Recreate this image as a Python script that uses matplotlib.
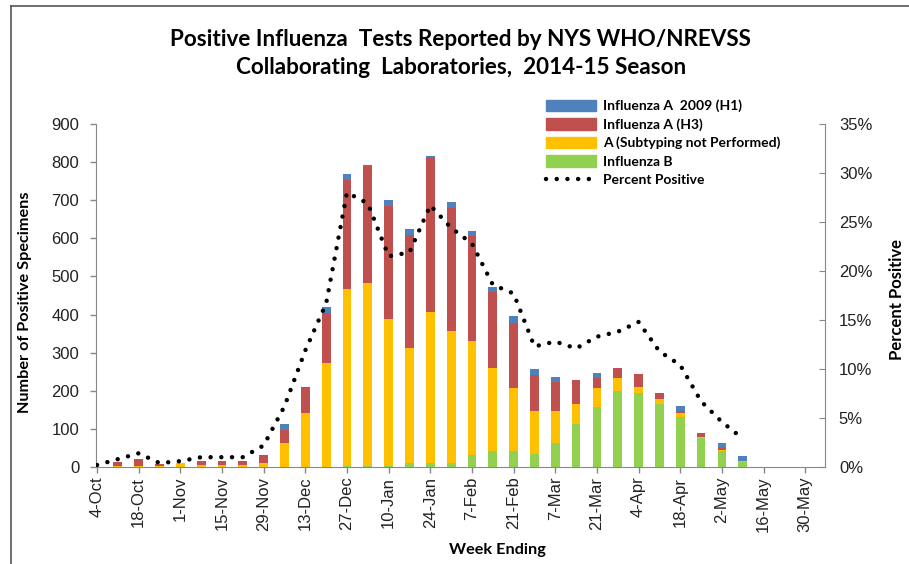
import numpy as np
import matplotlib
matplotlib.use('Agg')
import matplotlib.pyplot as plt
from matplotlib.lines import Line2D
from matplotlib.patches import Patch

# week ending dates, 4-Oct-2014 .. 30-May-2015
weeks = ['4-Oct', '11-Oct', '18-Oct', '25-Oct', '1-Nov', '8-Nov', '15-Nov', '22-Nov',
         '29-Nov', '6-Dec', '13-Dec', '20-Dec', '27-Dec', '3-Jan', '10-Jan', '17-Jan',
         '24-Jan', '31-Jan', '7-Feb', '14-Feb', '21-Feb', '28-Feb', '7-Mar', '14-Mar',
         '21-Mar', '28-Mar', '4-Apr', '11-Apr', '18-Apr', '25-Apr', '2-May', '9-May',
         '16-May', '23-May', '30-May']

flu_b = [0, 0, 0, 0, 0, 0, 0, 0, 1, 0, 0, 0, 2, 2, 3, 10, 10, 10, 31, 42, 42, 33,
         62, 112, 157, 199, 193, 164, 132, 75, 43, 14, 0, 0, 0]
a_not_subtyped = [0, 3, 3, 2, 10, 5, 5, 4, 9, 64, 141, 274, 466, 480, 385, 303, 398,
                  347, 300, 217, 166, 114, 85, 52, 49, 35, 18, 14, 9, 3, 2, 1, 0, 0, 0]
a_h3 = [0, 10, 17, 5, 1, 12, 12, 13, 21, 33, 68, 131, 285, 309, 297, 296, 405, 322,
        275, 201, 171, 94, 75, 63, 27, 25, 33, 15, 6, 10, 4, 1, 0, 0, 0]
a_h1 = [0, 0, 0, 0, 0, 0, 0, 0, 0, 16, 2, 14, 16, 2, 16, 15, 3, 16, 14, 13, 16, 15,
        15, 2, 13, 2, 1, 1, 14, 1, 15, 14, 0, 0, 0]

pct_positive = [0.2, 0.8, 1.4, 0.4, 0.6, 1.0, 1.0, 1.0, 2.2, 6.2, 11.9, 16.7, 28.0,
                26.9, 21.5, 21.9, 26.7, 24.4, 22.8, 18.6, 17.7, 12.3, 12.8, 12.1, 13.3,
                13.8, 14.8, 11.8, 10.4, 6.7, 4.6, 2.9]

series_names = ['Influenza A  2009 (H1)', 'Influenza A (H3)',
                'A (Subtyping not Performed)', 'Influenza B', 'Percent Positive']
COLORS = ['#4F81BD', '#C0504D', '#FFC000', '#92D050']

title_font = ['Lato', 'DejaVu Sans']
tick_font = ['Liberation Sans', 'DejaVu Sans']


def main():
    x = np.arange(len(weeks))
    b = np.array(flu_b)
    y = np.array(a_not_subtyped)
    r = np.array(a_h3)
    h1 = np.array(a_h1)

    fig = plt.figure(figsize=(9.09, 5.64), dpi=100)
    ax = fig.add_axes([96 / 909, 1 - 467 / 564, (825 - 96) / 909, (467 - 124) / 564])

    w = 0.42
    ax.bar(x, b, w, color=COLORS[3], zorder=2)
    ax.bar(x, y, w, bottom=b, color=COLORS[2], zorder=2)
    ax.bar(x, r, w, bottom=b + y, color=COLORS[1], zorder=2)
    ax.bar(x, h1, w, bottom=b + y + r, color=COLORS[0], zorder=2)

    ax.set_xlim(-0.05, 34.95)
    ax.set_ylim(0, 900)
    ax.set_yticks(np.arange(0, 901, 100))
    ax.set_xticks(x[::2])
    ax.set_xticklabels(weeks[::2], rotation=90, fontsize=12, family=tick_font, color='#222222')
    for lab in ax.get_yticklabels():
        lab.set_family(tick_font)
        lab.set_fontsize(12)
        lab.set_color('#222222')
    ax.tick_params(axis='both', direction='out', length=4, color='#888888', width=1)
    ax.tick_params(axis='y', pad=8)
    ax.tick_params(axis='x', pad=3)
    for side in ['top', 'right']:
        ax.spines[side].set_visible(False)
    for side in ['left', 'bottom']:
        ax.spines[side].set_color('#888888')

    ax2 = ax.twinx()
    xp = np.arange(len(pct_positive))
    ax2.plot(xp, pct_positive, color='black', lw=3.2, linestyle=(0, (0.01, 2.4)),
             dash_capstyle='round', zorder=3)
    ax2.set_ylim(0, 35)
    ax2.set_yticks(np.arange(0, 36, 5))
    ax2.set_yticklabels(['%d%%' % v for v in range(0, 36, 5)], family=tick_font,
                        fontsize=12, color='#222222')
    ax2.tick_params(axis='y', direction='in', length=4, color='#888888', pad=10)
    for side in ['top', 'left', 'bottom']:
        ax2.spines[side].set_visible(False)
    ax2.spines['right'].set_color('#888888')

    fig.text(0.507, 1 - 39 / 564, 'Positive Influenza  Tests Reported by NYS WHO/NREVSS',
             ha='center', va='center', fontsize=16.2, fontweight='bold', family=title_font)
    fig.text(0.507, 1 - 68 / 564, 'Collaborating  Laboratories,  2014-15 Season',
             ha='center', va='center', fontsize=16.2, fontweight='bold', family=title_font)

    fig.text(25 / 909, 1 - 302 / 564, 'Number of Positive Specimens', rotation=90,
             ha='center', va='center', fontsize=11.7, fontweight='bold', family=title_font)
    fig.text(897 / 909, 1 - 300 / 564, 'Percent Positive', rotation=90,
             ha='center', va='center', fontsize=12, fontweight='bold', family=title_font)
    fig.text(497 / 909, 1 - 550 / 564, 'Week Ending',
             ha='center', va='center', fontsize=11.7, fontweight='bold', family=title_font)

    handles = [Patch(color=c) for c in COLORS]
    handles.append(Line2D([0], [0], color='black', lw=3.2, linestyle=(0, (0.01, 2.4)),
                          dash_capstyle='round'))
    fig.legend(handles, series_names, loc='upper left',
               bbox_to_anchor=(536 / 909, 1 - 90 / 564), frameon=False,
               handlelength=3.6, handleheight=0.9, handletextpad=0.5,
               labelspacing=0.42, borderpad=0.2,
               prop={'family': title_font, 'weight': 'bold', 'size': 10})

    # chart frame (top and left edges visible in the reference)
    fig.add_artist(Line2D([11 / 909, 11 / 909], [0, 1 - 6 / 564], color='#555555', lw=1.2))
    fig.add_artist(Line2D([11 / 909, 1], [1 - 6 / 564, 1 - 6 / 564], color='#555555', lw=1.2))

    fig.savefig('out.png', dpi=100)


if __name__ == '__main__':
    main()
